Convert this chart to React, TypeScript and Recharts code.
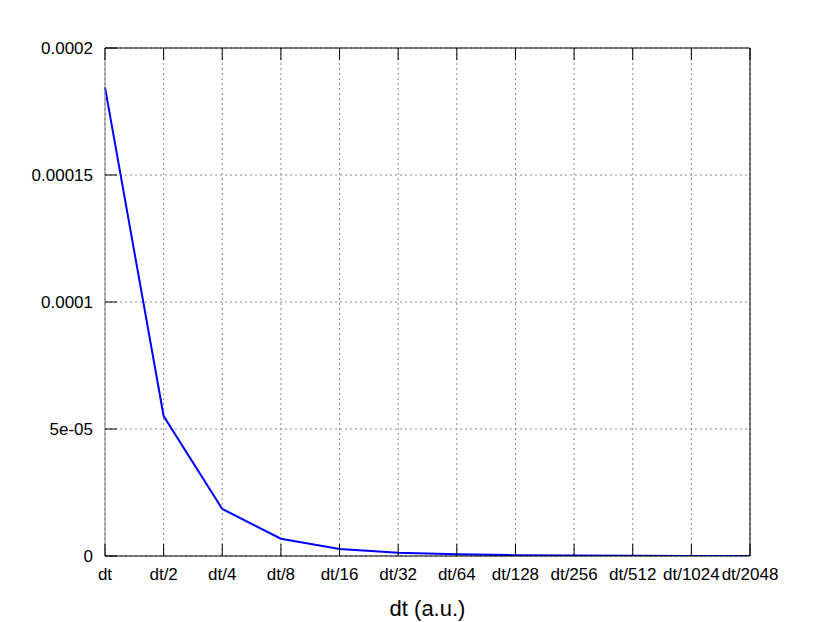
import { LineChart, Line, XAxis, YAxis, CartesianGrid } from 'recharts';

// step-size labels along the x axis
const steps = ['dt', 'dt/2', 'dt/4', 'dt/8', 'dt/16', 'dt/32', 'dt/64', 'dt/128', 'dt/256', 'dt/512', 'dt/1024', 'dt/2048'];
// error
const errors = [1.845e-4, 5.51e-5, 1.85e-5, 6.8e-6, 2.8e-6, 1.3e-6, 6.5e-7, 3.2e-7, 1.6e-7, 8e-8, 4e-8, 2e-8];
const yTicks = [0, 5e-5, 1e-4, 1.5e-4, 2e-4];
const yTickLabels = ['0', '5e-05', '0.0001', '0.00015', '0.0002'];

const data = steps.map((s, i) => ({ step: s, err: errors[i] }));

const FONT = '"Liberation Sans", Arial, sans-serif';
const TICK_LEN = 12;
const GAP = 12;

const LeftTick = ({ x, y, payload }: any) => {
  const i = yTicks.indexOf(payload.value);
  return (
    <g>
      <line x1={x + GAP} x2={x + GAP + TICK_LEN} y1={y} y2={y} stroke="#000" />
      <text x={x} y={y} dy="0.35em" textAnchor="end" fontSize={17} fontFamily={FONT} fill="#000">
        {yTickLabels[i]}
      </text>
    </g>
  );
};

const RightTick = ({ x, y }: any) => (
  <line x1={x - GAP} x2={x - GAP - TICK_LEN} y1={y} y2={y} stroke="#000" />
);

const BottomTick = ({ x, y, payload }: any) => (
  <g>
    <line x1={x} x2={x} y1={y - GAP} y2={y - GAP - TICK_LEN} stroke="#000" />
    <text x={x} y={y} dy="0.71em" textAnchor="middle" fontSize={17} fontFamily={FONT} fill="#000">
      {payload.value}
    </text>
  </g>
);

const TopTick = ({ x, y }: any) => (
  <line x1={x} x2={x} y1={y + GAP} y2={y + GAP + TICK_LEN} stroke="#000" />
);

export default function App() {
  return (
    <div style={{ position: 'absolute', left: 0, top: 0, width: 830, height: 622, background: '#fff' }}>
      <LineChart width={830} height={622} data={data} margin={{ top: 0, right: 0, bottom: 0, left: 0 }}>
        <CartesianGrid stroke="#888" strokeDasharray="2 3" />
        <XAxis
          dataKey="step"
          height={66}
          interval={0}
          padding={{ left: 0, right: 0 }}
          axisLine={{ stroke: '#000' }}
          tickLine={false}
          tickSize={0}
          tickMargin={GAP}
          tick={<BottomTick />}
          label={{ value: 'dt (a.u.)', position: 'insideBottom', offset: 6, fontSize: 22, fontFamily: FONT, fill: '#000' }}
        />
        <XAxis
          xAxisId="top"
          dataKey="step"
          orientation="top"
          height={48}
          interval={0}
          axisLine={{ stroke: '#000' }}
          tickLine={false}
          tickSize={0}
          tickMargin={GAP}
          tick={<TopTick />}
        />
        <YAxis
          width={105}
          domain={[0, 2e-4]}
          ticks={yTicks}
          allowDataOverflow
          axisLine={{ stroke: '#777' }}
          tickLine={false}
          tickSize={0}
          tickMargin={GAP}
          tick={<LeftTick />}
        />
        <YAxis
          yAxisId="right"
          orientation="right"
          width={80}
          domain={[0, 2e-4]}
          ticks={yTicks}
          axisLine={{ stroke: '#000' }}
          tickLine={false}
          tickSize={0}
          tickMargin={GAP}
          tick={<RightTick />}
        />
        <Line
          type="linear"
          dataKey="err"
          stroke="#0000ff"
          strokeWidth={2}
          dot={false}
          isAnimationActive={false}
        />
      </LineChart>
    </div>
  );
}
